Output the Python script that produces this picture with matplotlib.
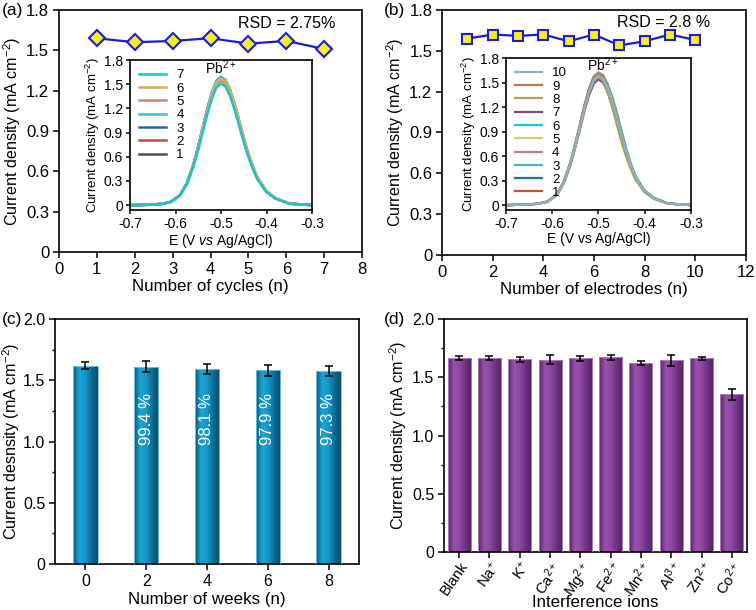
import matplotlib
matplotlib.use("Agg")
import matplotlib.pyplot as plt
import numpy as np
from matplotlib.ticker import FuncFormatter, MultipleLocator
from matplotlib.colors import LinearSegmentedColormap

plt.rcParams['font.family'] = ['Liberation Sans', 'DejaVu Sans']
plt.rcParams['mathtext.fontset'] = 'custom'
plt.rcParams['mathtext.rm'] = 'Liberation Sans'
plt.rcParams['mathtext.it'] = 'Liberation Sans:italic'
plt.rcParams['axes.unicode_minus'] = False

# ---------------- data ----------------
cycles = [1, 2, 3, 4, 5, 6, 7]
cycle_vals = [1.59, 1.56, 1.57, 1.59, 1.55, 1.57, 1.51]

electrodes = [1, 2, 3, 4, 5, 6, 7, 8, 9, 10]
electrode_vals = [1.59, 1.62, 1.61, 1.62, 1.57, 1.62, 1.54, 1.57, 1.62, 1.58]

E = [-0.70, -0.66, -0.63, -0.61, -0.59, -0.575, -0.56, -0.55, -0.54, -0.53, -0.52, -0.51,
     -0.50, -0.49, -0.48, -0.47, -0.46, -0.45, -0.44, -0.43, -0.42, -0.40, -0.38, -0.35, -0.30]

# inset (a) curves (cycle 1..7)
cyc1 = [0, 0.005, 0.016, 0.042, 0.127, 0.276, 0.52, 0.73, 0.965, 1.20, 1.40, 1.54, 1.59, 1.55, 1.43, 1.25, 1.04, 0.83, 0.64, 0.48, 0.34, 0.17, 0.085, 0.02, 0]
cyc2 = [0, 0.005, 0.016, 0.042, 0.125, 0.27, 0.51, 0.72, 0.95, 1.18, 1.37, 1.51, 1.56, 1.52, 1.40, 1.23, 1.02, 0.81, 0.62, 0.47, 0.33, 0.17, 0.083, 0.02, 0]
cyc3 = [0, 0.005, 0.016, 0.042, 0.126, 0.27, 0.51, 0.72, 0.95, 1.18, 1.38, 1.52, 1.57, 1.53, 1.41, 1.24, 1.03, 0.82, 0.63, 0.47, 0.34, 0.17, 0.084, 0.02, 0]
cyc4 = [0, 0.005, 0.016, 0.042, 0.127, 0.276, 0.52, 0.73, 0.96, 1.20, 1.40, 1.54, 1.59, 1.55, 1.43, 1.25, 1.04, 0.83, 0.64, 0.48, 0.34, 0.17, 0.085, 0.02, 0]
cyc5 = [0, 0.005, 0.015, 0.041, 0.124, 0.27, 0.51, 0.71, 0.94, 1.17, 1.36, 1.50, 1.55, 1.51, 1.39, 1.22, 1.01, 0.81, 0.62, 0.46, 0.33, 0.165, 0.083, 0.02, 0]
cyc6 = [0, 0.005, 0.016, 0.042, 0.126, 0.27, 0.51, 0.72, 0.95, 1.18, 1.38, 1.52, 1.57, 1.54, 1.42, 1.26, 1.05, 0.84, 0.65, 0.49, 0.35, 0.18, 0.086, 0.02, 0]
cyc7 = [0, 0.005, 0.015, 0.040, 0.12, 0.26, 0.49, 0.69, 0.91, 1.13, 1.32, 1.46, 1.51, 1.47, 1.35, 1.18, 0.98, 0.78, 0.60, 0.45, 0.32, 0.16, 0.08, 0.02, 0]
cyc_curves = [cyc1, cyc2, cyc3, cyc4, cyc5, cyc6, cyc7]
cyc_labels = ['1', '2', '3', '4', '5', '6', '7']
cyc_colors = ['#5a4858', '#c84848', '#1c6e8c', '#3cc0d8', '#c88870', '#d8b050', '#19c3d6']

# inset (b) curves (electrode 1..10)
el1 = [0, 0.006, 0.018, 0.045, 0.13, 0.28, 0.53, 0.74, 0.97, 1.20, 1.40, 1.54, 1.59, 1.56, 1.46, 1.31, 1.12, 0.90, 0.68, 0.50, 0.35, 0.17, 0.085, 0.02, 0]
el2 = [0, 0.006, 0.017, 0.044, 0.13, 0.28, 0.53, 0.75, 0.98, 1.22, 1.42, 1.57, 1.62, 1.58, 1.45, 1.27, 1.05, 0.84, 0.64, 0.48, 0.34, 0.17, 0.085, 0.02, 0]
el3 = [0, 0.006, 0.017, 0.044, 0.13, 0.28, 0.53, 0.74, 0.98, 1.21, 1.41, 1.56, 1.61, 1.57, 1.45, 1.28, 1.07, 0.86, 0.66, 0.49, 0.35, 0.17, 0.085, 0.02, 0]
el4 = [0, 0.006, 0.017, 0.044, 0.13, 0.28, 0.53, 0.75, 0.98, 1.22, 1.42, 1.57, 1.62, 1.58, 1.45, 1.27, 1.05, 0.84, 0.64, 0.48, 0.34, 0.17, 0.085, 0.02, 0]
el5 = [0, 0.005, 0.016, 0.042, 0.126, 0.27, 0.51, 0.72, 0.95, 1.18, 1.38, 1.52, 1.57, 1.52, 1.39, 1.20, 0.99, 0.78, 0.60, 0.45, 0.32, 0.16, 0.08, 0.02, 0]
el6 = [0, 0.006, 0.017, 0.044, 0.13, 0.28, 0.52, 0.74, 0.97, 1.21, 1.42, 1.57, 1.62, 1.59, 1.48, 1.32, 1.12, 0.90, 0.69, 0.51, 0.36, 0.18, 0.09, 0.02, 0]
el7 = [0, 0.005, 0.016, 0.041, 0.123, 0.27, 0.50, 0.71, 0.93, 1.16, 1.35, 1.49, 1.54, 1.50, 1.38, 1.21, 1.00, 0.80, 0.61, 0.46, 0.33, 0.16, 0.08, 0.02, 0]
el8 = [0, 0.005, 0.016, 0.042, 0.126, 0.27, 0.51, 0.72, 0.95, 1.18, 1.38, 1.52, 1.57, 1.52, 1.38, 1.19, 0.98, 0.77, 0.59, 0.44, 0.31, 0.155, 0.078, 0.02, 0]
el9 = [0, 0.006, 0.018, 0.046, 0.135, 0.29, 0.54, 0.76, 0.99, 1.23, 1.43, 1.57, 1.62, 1.58, 1.46, 1.29, 1.08, 0.87, 0.66, 0.49, 0.35, 0.17, 0.085, 0.02, 0]
el10 = [0, 0.005, 0.017, 0.043, 0.128, 0.28, 0.52, 0.73, 0.96, 1.19, 1.39, 1.53, 1.58, 1.55, 1.44, 1.27, 1.07, 0.86, 0.66, 0.49, 0.35, 0.17, 0.085, 0.02, 0]
el_curves = [el1, el2, el3, el4, el5, el6, el7, el8, el9, el10]
el_labels = ['1', '2', '3', '4', '5', '6', '7', '8', '9', '10']
el_colors = ['#d04a36', '#2a7090', '#48b8c8', '#d07888', '#e0c870', '#1ec8d8',
             '#7a4a80', '#b0a060', '#c8735a', '#88b4bc']

weeks = [0, 2, 4, 6, 8]
week_vals = [1.62, 1.61, 1.59, 1.58, 1.575]
week_err = [0.03, 0.044, 0.042, 0.044, 0.042]
week_pct = ['', '99.4 %', '98.1 %', '97.9 %', '97.3 %']

ions = ['Blank', 'Na$^{+}$', 'K$^{+}$', 'Ca$^{2+}$', 'Mg$^{2+}$', 'Fe$^{2+}$',
        'Mn$^{2+}$', 'Al$^{3+}$', 'Zn$^{2+}$', 'Co$^{2+}$']
ion_vals = [1.662, 1.668, 1.654, 1.651, 1.662, 1.671, 1.622, 1.645, 1.662, 1.353]
ion_err = [0.017, 0.017, 0.02, 0.041, 0.019, 0.019, 0.014, 0.046, 0.016, 0.044]

# ---------------- helpers ----------------
def fmt0(v, pos):
    if abs(v) < 1e-9:
        return '0'
    return f'{v:.1f}'

def style_axes(ax, fs=12):
    for s in ax.spines.values():
        s.set_linewidth(1.2)
    ax.tick_params(direction='out', length=4, width=1.1, labelsize=fs,
                   top=False, right=False, pad=3)

def gradient_bars(ax, bars, colors):
    cmap = LinearSegmentedColormap.from_list('g', colors)
    grad = np.linspace(0, 1, 64).reshape(1, -1)
    for b in bars:
        x0, w, h = b.get_x(), b.get_width(), b.get_height()
        im = ax.imshow(grad, extent=[x0, x0 + w, 0, h], aspect='auto',
                       cmap=cmap, zorder=2, interpolation='bilinear')
        im.set_clip_path(b)

ylab = 'Current density (mA cm$^{-2}$)'
XFS = 12.2
YFS = 11.6

fig = plt.figure(figsize=(7.56, 6.10), dpi=100)

# ---------------- (a) ----------------
axA = fig.add_axes([0.078, 0.5869, 0.401, 0.3967])
axA.plot(cycles, cycle_vals, color='#1c1cd4', lw=1.6, marker='D', ms=8.5,
         mfc='#f2f020', mec='#1c1cd4', mew=1.5, zorder=3)
axA.set_xlim(0, 8)
axA.set_ylim(0, 1.8)
axA.xaxis.set_major_locator(MultipleLocator(1))
axA.yaxis.set_major_locator(MultipleLocator(0.3))
axA.yaxis.set_major_formatter(FuncFormatter(fmt0))
style_axes(axA)
axA.set_xlabel('Number of cycles (n)', fontsize=XFS, labelpad=2)
axA.set_ylabel(ylab, fontsize=YFS, labelpad=2)
axA.text(0.75, 0.945, 'RSD = 2.75%', transform=axA.transAxes, ha='center',
         va='center', fontsize=11.5)
fig.text(0.003, 0.983, '(a)', fontsize=12.5, va='center', ha='left')

insA = fig.add_axes([0.172, 0.6557, 0.2407, 0.2459])
for c, lab, col in zip(cyc_curves, cyc_labels, cyc_colors):
    insA.plot(E, c, color=col, lw=1.8, label=lab)
insA.set_xlim(-0.7, -0.3)
insA.set_ylim(-0.06, 1.8)
insA.xaxis.set_major_locator(MultipleLocator(0.1))
insA.yaxis.set_major_locator(MultipleLocator(0.3))
insA.yaxis.set_major_formatter(FuncFormatter(fmt0))
insA.xaxis.set_major_formatter(FuncFormatter(lambda v, p: f'{v:.1f}'))
style_axes(insA, fs=10)
insA.tick_params(length=3, pad=2)
insA.set_xlabel('E (V $\\mathit{vs}$ Ag/AgCl)', fontsize=10, labelpad=1)
insA.set_ylabel(ylab, fontsize=9.5, labelpad=1)
insA.text(-0.5, 1.71, 'Pb$^{2+}$', ha='center', va='center', fontsize=10)
h, l = insA.get_legend_handles_labels()
insA.legend(h[::-1], l[::-1], loc='upper left', frameon=False, fontsize=9.5,
            handlelength=2.0, handletextpad=0.8, labelspacing=0.08,
            borderaxespad=0.3)

# ---------------- (b) ----------------
axB = fig.add_axes([0.5847, 0.582, 0.402, 0.4016])
axB.plot(electrodes, electrode_vals, color='#1c1cd4', lw=1.6, marker='s', ms=7,
         mfc='#f2f020', mec='#1c1cd4', mew=1.5, zorder=3)
axB.set_xlim(0, 12)
axB.set_ylim(0, 1.8)
axB.xaxis.set_major_locator(MultipleLocator(2))
axB.yaxis.set_major_locator(MultipleLocator(0.3))
axB.yaxis.set_major_formatter(FuncFormatter(fmt0))
style_axes(axB)
axB.set_xlabel('Number of electrodes (n)', fontsize=XFS, labelpad=2)
axB.set_ylabel(ylab, fontsize=YFS, labelpad=2)
axB.text(0.73, 0.95, 'RSD = 2.8 %', transform=axB.transAxes, ha='center',
         va='center', fontsize=11.5)
fig.text(0.508, 0.983, '(b)', fontsize=12.5, va='center', ha='left')

insB = fig.add_axes([0.6693, 0.6557, 0.2447, 0.2492])
for c, lab, col in zip(el_curves, el_labels, el_colors):
    insB.plot(E, c, color=col, lw=1.6, label=lab)
insB.set_xlim(-0.7, -0.3)
insB.set_ylim(-0.06, 1.8)
insB.xaxis.set_major_locator(MultipleLocator(0.1))
insB.yaxis.set_major_locator(MultipleLocator(0.3))
insB.yaxis.set_major_formatter(FuncFormatter(fmt0))
insB.xaxis.set_major_formatter(FuncFormatter(lambda v, p: f'{v:.1f}'))
style_axes(insB, fs=10)
insB.tick_params(length=3, pad=2)
insB.set_xlabel('E (V vs Ag/AgCl)', fontsize=10, labelpad=1)
insB.set_ylabel(ylab, fontsize=9.5, labelpad=1)
insB.text(-0.49, 1.72, 'Pb$^{2+}$', ha='center', va='center', fontsize=10)
h, l = insB.get_legend_handles_labels()
insB.legend(h[::-1], l[::-1], loc='upper left', frameon=False, fontsize=9.5,
            handlelength=2.0, handletextpad=0.8, labelspacing=0.08,
            borderaxespad=0.3)

# ---------------- (c) ----------------
axC = fig.add_axes([0.0728, 0.0754, 0.402, 0.4016])
barsC = axC.bar(weeks, week_vals, width=0.8, color='none', edgecolor='#7ec8e0',
                linewidth=0.6, zorder=3)
gradient_bars(axC, barsC, ['#0a5a7c', '#1aa6d6', '#1696c6', '#0b6a90', '#084e6c'])
axC.errorbar(weeks, week_vals, yerr=week_err, fmt='none', ecolor='black',
             elinewidth=1.1, capsize=3, capthick=1.1, zorder=5)
for x, t in zip(weeks, week_pct):
    if t:
        axC.text(x, 1.18, t, rotation=90, ha='center', va='center',
                 color='white', fontsize=12, zorder=6)
axC.set_xlim(-1, 9)
axC.set_ylim(0, 2.0)
axC.set_xticks(weeks)
axC.yaxis.set_major_locator(MultipleLocator(0.5))
axC.yaxis.set_minor_locator(MultipleLocator(0.25))
axC.yaxis.set_major_formatter(FuncFormatter(fmt0))
style_axes(axC, fs=11.5)
axC.tick_params(which='minor', length=2.5, width=1.0)
axC.set_xlabel('Number of weeks (n)', fontsize=XFS, labelpad=2)
axC.set_ylabel('Current desnsity (mA cm$^{-2}$)', fontsize=YFS, labelpad=1)
fig.text(0.003, 0.477, '(c)', fontsize=12.5, va='center', ha='left')

# ---------------- (d) ----------------
axD = fig.add_axes([0.5873, 0.0951, 0.4008, 0.3819])
xD = np.arange(len(ions))
barsD = axD.bar(xD, ion_vals, width=0.76, color='none', edgecolor='#b48cc0',
                linewidth=0.6, zorder=3)
gradient_bars(axD, barsD, ['#5a2468', '#9a52ae', '#8e46a2', '#6e3080', '#552263'])
axD.errorbar(xD, ion_vals, yerr=ion_err, fmt='none', ecolor='black',
             elinewidth=1.1, capsize=3, capthick=1.1, zorder=5)
axD.set_xlim(-0.5, 9.5)
axD.set_ylim(0, 2.0)
axD.set_xticks(xD)
axD.set_xticklabels(ions, rotation=55, ha='right', rotation_mode='anchor')
axD.yaxis.set_major_locator(MultipleLocator(0.5))
axD.yaxis.set_minor_locator(MultipleLocator(0.25))
axD.yaxis.set_major_formatter(FuncFormatter(fmt0))
style_axes(axD, fs=11.5)
axD.tick_params(axis='x', labelsize=10.8, pad=1)
axD.tick_params(which='minor', length=2.5, width=1.0)
axD.set_ylabel(ylab, fontsize=YFS, labelpad=2)
fig.text(0.7877, 0.012, 'Interference ions', fontsize=XFS, ha='center', va='center')
fig.text(0.508, 0.477, '(d)', fontsize=12.5, va='center', ha='left')

fig.savefig('out.png', dpi=100)
